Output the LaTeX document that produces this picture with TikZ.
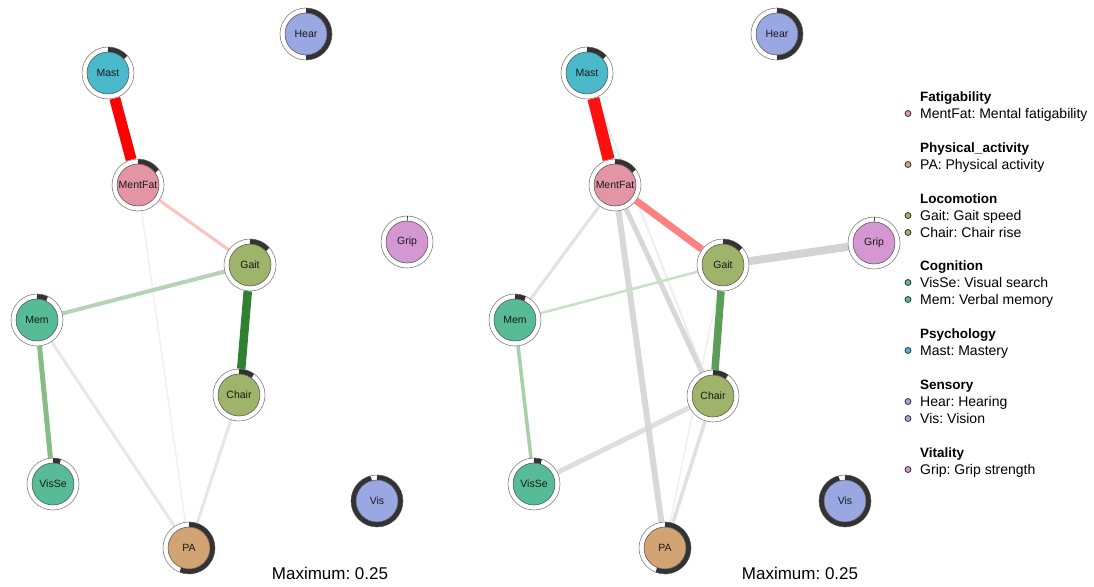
\documentclass[tikz,border=0pt]{standalone}
\usepackage{fontspec}
\setmainfont{Liberation Sans}
\frenchspacing
\pgfdeclarelayer{edgelayer}
\pgfsetlayers{edgelayer,main}

% group colours
\definecolor{cFat}{HTML}{E495A5}
\definecolor{cPA}{HTML}{D2A474}
\definecolor{cLoc}{HTML}{9DB46A}
\definecolor{cCog}{HTML}{56BB96}
\definecolor{cPsy}{HTML}{4AB9CA}
\definecolor{cSen}{HTML}{99A8E2}
\definecolor{cVit}{HTML}{D497D2}
\definecolor{pieDark}{HTML}{333333}

\tikzset{
  ringbase/.style={circle, draw=black!50, line width=0.6pt, fill=white,
    minimum size=52pt, inner sep=0pt},
  core/.style={circle, draw=black!70, line width=0.5pt, minimum size=42pt,
    inner sep=0pt, font=\fontsize{10.5}{12}\selectfont, text=black!90},
  piearc/.style={draw=pieDark, line width=4.8pt},
  link/.style 2 args={draw={#1}, line width=#2},
  legtitle/.style={anchor=base west, inner sep=0pt,
    font=\fontsize{13.5}{16}\selectfont\bfseries},
  legitem/.style={anchor=base west, inner sep=0pt,
    font=\fontsize{14}{16}\selectfont},
  legdot/.style={circle, draw=black!80, line width=0.8pt, minimum size=6pt,
    inner sep=0pt},
  maxlabel/.style={anchor=base, inner sep=0pt, font=\fontsize{17}{20}\selectfont},
}

% ring node: name, x, y, fill colour, pie fraction, label
\newcommand\netnode[6]{%
  \node[ringbase] (#1) at (#2,#3) {};
  \draw[piearc] ([shift={(90:23.5pt)}]#1.center)
    arc[start angle=90, delta angle={-360*#5}, radius=23.5pt];
  \node[core, fill=#4] (#1-core) at (#1.center) {#6};
}

% legend entry: name, y baseline, colour, text
\newcommand\legentry[4]{%
  \node[legdot, fill=#3] (#1-dot) at (908,#2-4.5) {};
  \node[legitem] (#1-txt) at (920,#2) {#4};
}

\begin{document}
\begin{tikzpicture}[x=1pt, y=-1pt]
\useasboundingbox (0,0) rectangle (1094,586);

% ---- left network ----
\netnode{LHear}{306}{34}{cSen}{0.5}{Hear}
\netnode{LMast}{108}{73}{cPsy}{0.135}{Mast}
\netnode{LMentFat}{138}{185}{cFat}{0.15}{MentFat}
\netnode{LGait}{250}{265}{cLoc}{0.135}{Gait}
\netnode{LGrip}{407}{242}{cVit}{0.005}{Grip}
\netnode{LMem}{37}{320}{cCog}{0.07}{Mem}
\netnode{LChair}{239}{395}{cLoc}{0.10}{Chair}
\netnode{LVisSe}{53}{484}{cCog}{0.05}{VisSe}
\netnode{LVis}{377}{501}{cSen}{0.96}{Vis}
\netnode{LPA}{189}{548}{cPA}{0.56}{PA}

% ---- right network ----
\netnode{RHear}{777}{34}{cSen}{0.5}{Hear}
\netnode{RMast}{587}{73}{cPsy}{0.135}{Mast}
\netnode{RMentFat}{615}{185}{cFat}{0.15}{MentFat}
\netnode{RGait}{723}{265}{cLoc}{0.135}{Gait}
\netnode{RGrip}{874}{243}{cVit}{0.005}{Grip}
\netnode{RMem}{515}{320}{cCog}{0.07}{Mem}
\netnode{RChair}{713}{396}{cLoc}{0.10}{Chair}
\netnode{RVisSe}{534}{484}{cCog}{0.05}{VisSe}
\netnode{RVis}{845}{501}{cSen}{0.96}{Vis}
\netnode{RPA}{665}{548}{cPA}{0.56}{PA}

\begin{pgfonlayer}{edgelayer}
  % left edges
  \draw[link={rgb,255:red,240;green,240;blue,240}{1.5pt}] (LMentFat) -- (LPA);
  \draw[link={rgb,255:red,232;green,232;blue,232}{3pt}] (LMem) -- (LPA);
  \draw[link={rgb,255:red,230;green,230;blue,230}{3pt}] (LChair) -- (LPA);
  \draw[link={rgb,255:red,255;green,192;blue,192}{3pt}] (LMentFat) -- (LGait);
  \draw[link={rgb,255:red,180;green,212;blue,180}{4pt}] (LGait) -- (LMem);
  \draw[link={rgb,255:red,134;green,188;blue,134}{5pt}] (LMem) -- (LVisSe);
  \draw[link={rgb,255:red,48;green,128;blue,50}{8.5pt}] (LGait) -- (LChair);
  \draw[link={rgb,255:red,255;green,0;blue,0}{11pt}] (LMast) -- (LMentFat);

  % right edges
  \draw[link={rgb,255:red,240;green,240;blue,240}{1.5pt}] (RGait) -- (RPA);
  \draw[link={rgb,255:red,238;green,238;blue,238}{2pt}] (RMast) -- (RChair);
  \draw[link={rgb,255:red,226;green,226;blue,226}{3pt}] (RMentFat) -- (RMem);
  \draw[link={rgb,255:red,224;green,224;blue,224}{3.5pt}] (RChair) -- (RPA);
  \draw[link={rgb,255:red,222;green,222;blue,222}{5pt}] (RChair) -- (RVisSe);
  \draw[link={rgb,255:red,216;green,216;blue,216}{5pt}] (RMentFat) -- (RChair);
  \draw[link={rgb,255:red,216;green,216;blue,216}{6pt}] (RMentFat) -- (RPA);
  \draw[link={rgb,255:red,211;green,211;blue,211}{8pt}] (RGait) -- (RGrip);
  \draw[link={rgb,255:red,200;green,224;blue,200}{2.5pt}] (RGait) -- (RMem);
  \draw[link={rgb,255:red,168;green,208;blue,168}{3.5pt}] (RMem) -- (RVisSe);
  \draw[link={rgb,255:red,90;green,158;blue,90}{7.5pt}] (RGait) -- (RChair);
  \draw[link={rgb,255:red,255;green,128;blue,128}{7pt}] (RMentFat) -- (RGait);
  \draw[link={rgb,255:red,255;green,16;blue,16}{12pt}] (RMast) -- (RMentFat);
\end{pgfonlayer}

% scale labels
\node[maxlabel] (LMax) at (330,579) {Maximum: 0.25};
\node[maxlabel] (RMax) at (800,579) {Maximum: 0.25};

% legend
\node[legtitle] (gFat) at (920,101) {Fatigability};
\legentry{kMentFat}{118}{cFat}{MentFat: Mental fatigability}
\node[legtitle] (gPA) at (920,152) {Physical\_activity};
\legentry{kPA}{169}{cPA}{PA: Physical activity}
\node[legtitle] (gLoc) at (920,203) {Locomotion};
\legentry{kGait}{220}{cLoc}{Gait: Gait speed}
\legentry{kChair}{237}{cLoc}{Chair: Chair rise}
\node[legtitle] (gCog) at (920,270) {Cognition};
\legentry{kVisSe}{287}{cCog}{VisSe: Visual search}
\legentry{kMem}{304}{cCog}{Mem: Verbal memory}
\node[legtitle] (gPsy) at (920,338) {Psychology};
\legentry{kMast}{355}{cPsy}{Mast: Mastery}
\node[legtitle] (gSen) at (920,389) {Sensory};
\legentry{kHear}{406}{cSen}{Hear: Hearing}
\legentry{kVis}{423}{cSen}{Vis: Vision}
\node[legtitle] (gVit) at (920,457) {Vitality};
\legentry{kGrip}{474}{cVit}{Grip: Grip strength}
\end{tikzpicture}
\end{document}
